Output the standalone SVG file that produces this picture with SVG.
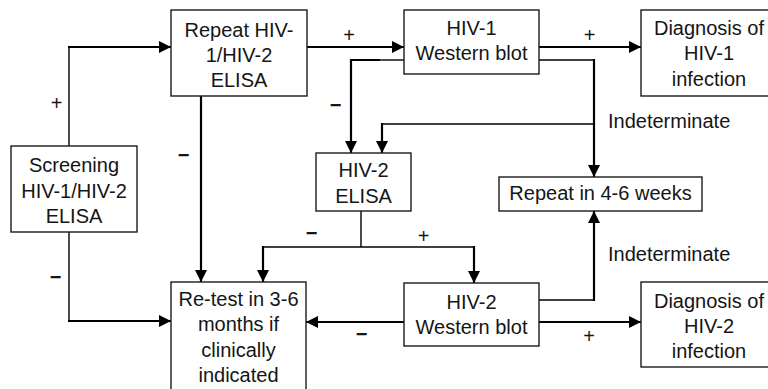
<svg xmlns="http://www.w3.org/2000/svg" width="768" height="389" viewBox="0 0 768 389">
<style>
.box{fill:#fff;stroke:#1a1a1a;stroke-width:1.4}
.t{font-family:"Liberation Sans",Arial,sans-serif;font-size:20px;fill:#151515;text-anchor:middle}
.l{font-family:"Liberation Sans",Arial,sans-serif;font-size:20px;fill:#151515}
.c{fill:none;stroke:#000;stroke-width:2.2}
.cn{fill:none;stroke:#000;stroke-width:1.4}
</style>
<defs>
<marker id="ah" markerUnits="userSpaceOnUse" markerWidth="13" markerHeight="13" refX="12" refY="6" orient="auto">
<path d="M0,0 L12,6 L0,12 z" fill="#000"/>
</marker>
</defs>
<rect width="768" height="389" fill="#fff"/>
<g id="connectors">
<path class="cn" d="M69,146 V47"/>
<path class="c" d="M68,47 H171" marker-end="url(#ah)"/>
<path class="cn" d="M69,232 V321"/>
<path class="c" d="M68,321 H171" marker-end="url(#ah)"/>
<path class="c" d="M201,96 V282" marker-end="url(#ah)"/>
<path class="c" d="M307,47 H404" marker-end="url(#ah)"/>
<path class="cn" d="M404,60 H380"/>
<path class="c" d="M380,60 H351 V153" marker-end="url(#ah)"/>
<path class="c" d="M539,47 H641" marker-end="url(#ah)"/>
<path class="cn" d="M539,60 H594"/>
<path class="c" d="M594,59 V177" marker-end="url(#ah)"/>
<path class="cn" d="M594,124 H382"/>
<path class="c" d="M383,124 H382 V153" marker-end="url(#ah)"/>
<path class="cn" d="M361,211 V247 M263,247 H474"/>
<path class="c" d="M263,246 V282" marker-end="url(#ah)"/>
<path class="c" d="M474,246 V283" marker-end="url(#ah)"/>
<path class="c" d="M404,322 H306" marker-end="url(#ah)"/>
<path class="cn" d="M539,300 H594"/>
<path class="c" d="M594,301 V211" marker-end="url(#ah)"/>
<path class="c" d="M539,322 H641" marker-end="url(#ah)"/>
<text class="t" x="56.5" y="109.5">+</text>
<text class="t" x="55.5" y="283.5" font-weight="bold">−</text>
<text class="t" x="183.5" y="161.5" font-weight="bold">−</text>
<text class="t" x="349" y="42">+</text>
<text class="t" x="335.5" y="111.5" font-weight="bold">−</text>
<text class="t" x="589.5" y="42">+</text>
<text class="l" x="608" y="128">Indeterminate</text>
<text class="t" x="311.5" y="239.5" font-weight="bold">−</text>
<text class="t" x="423.5" y="243">+</text>
<text class="t" x="361.5" y="340.5" font-weight="bold">−</text>
<text class="l" x="608" y="261">Indeterminate</text>
<text class="t" x="589" y="343">+</text>
</g>
<g id="screening">
<rect class="box" x="11" y="146" width="126" height="86"/>
<text class="t" x="74" y="172">Screening</text>
<text class="t" x="74" y="197.5">HIV-1/HIV-2</text>
<text class="t" x="74" y="223">ELISA</text>
</g>
<g id="repeat-elisa">
<rect class="box" x="171" y="10" width="136" height="86"/>
<text class="t" x="239" y="36.5">Repeat HIV-</text>
<text class="t" x="239" y="61.5">1/HIV-2</text>
<text class="t" x="239" y="87">ELISA</text>
</g>
<g id="hiv1-wb">
<rect class="box" x="404" y="10" width="135" height="64"/>
<text class="t" x="471.5" y="35">HIV-1</text>
<text class="t" x="471.5" y="60">Western blot</text>
</g>
<g id="diag-hiv1">
<rect class="box" x="641" y="10" width="140" height="86"/>
<text class="t" x="709" y="35">Diagnosis of</text>
<text class="t" x="709" y="60">HIV-1</text>
<text class="t" x="709" y="85.5">infection</text>
</g>
<g id="hiv2-elisa">
<rect class="box" x="316" y="153" width="95" height="58"/>
<text class="t" x="363.5" y="177">HIV-2</text>
<text class="t" x="363.5" y="202.5">ELISA</text>
</g>
<g id="repeat-weeks">
<rect class="box" x="499" y="177" width="203" height="34"/>
<text class="t" x="600.5" y="200">Repeat in 4-6 weeks</text>
</g>
<g id="retest">
<rect class="box" x="171" y="282" width="135" height="120"/>
<text class="t" x="238.5" y="305.5">Re-test in 3-6</text>
<text class="t" x="238.5" y="331">months if</text>
<text class="t" x="238.5" y="356.5">clinically</text>
<text class="t" x="238.5" y="382">indicated</text>
</g>
<g id="hiv2-wb">
<rect class="box" x="404" y="283" width="135" height="63"/>
<text class="t" x="471.5" y="308.5">HIV-2</text>
<text class="t" x="471.5" y="333.5">Western blot</text>
</g>
<g id="diag-hiv2">
<rect class="box" x="641" y="282" width="140" height="85"/>
<text class="t" x="709" y="308">Diagnosis of</text>
<text class="t" x="709" y="333">HIV-2</text>
<text class="t" x="709" y="358">infection</text>
</g>
</svg>
